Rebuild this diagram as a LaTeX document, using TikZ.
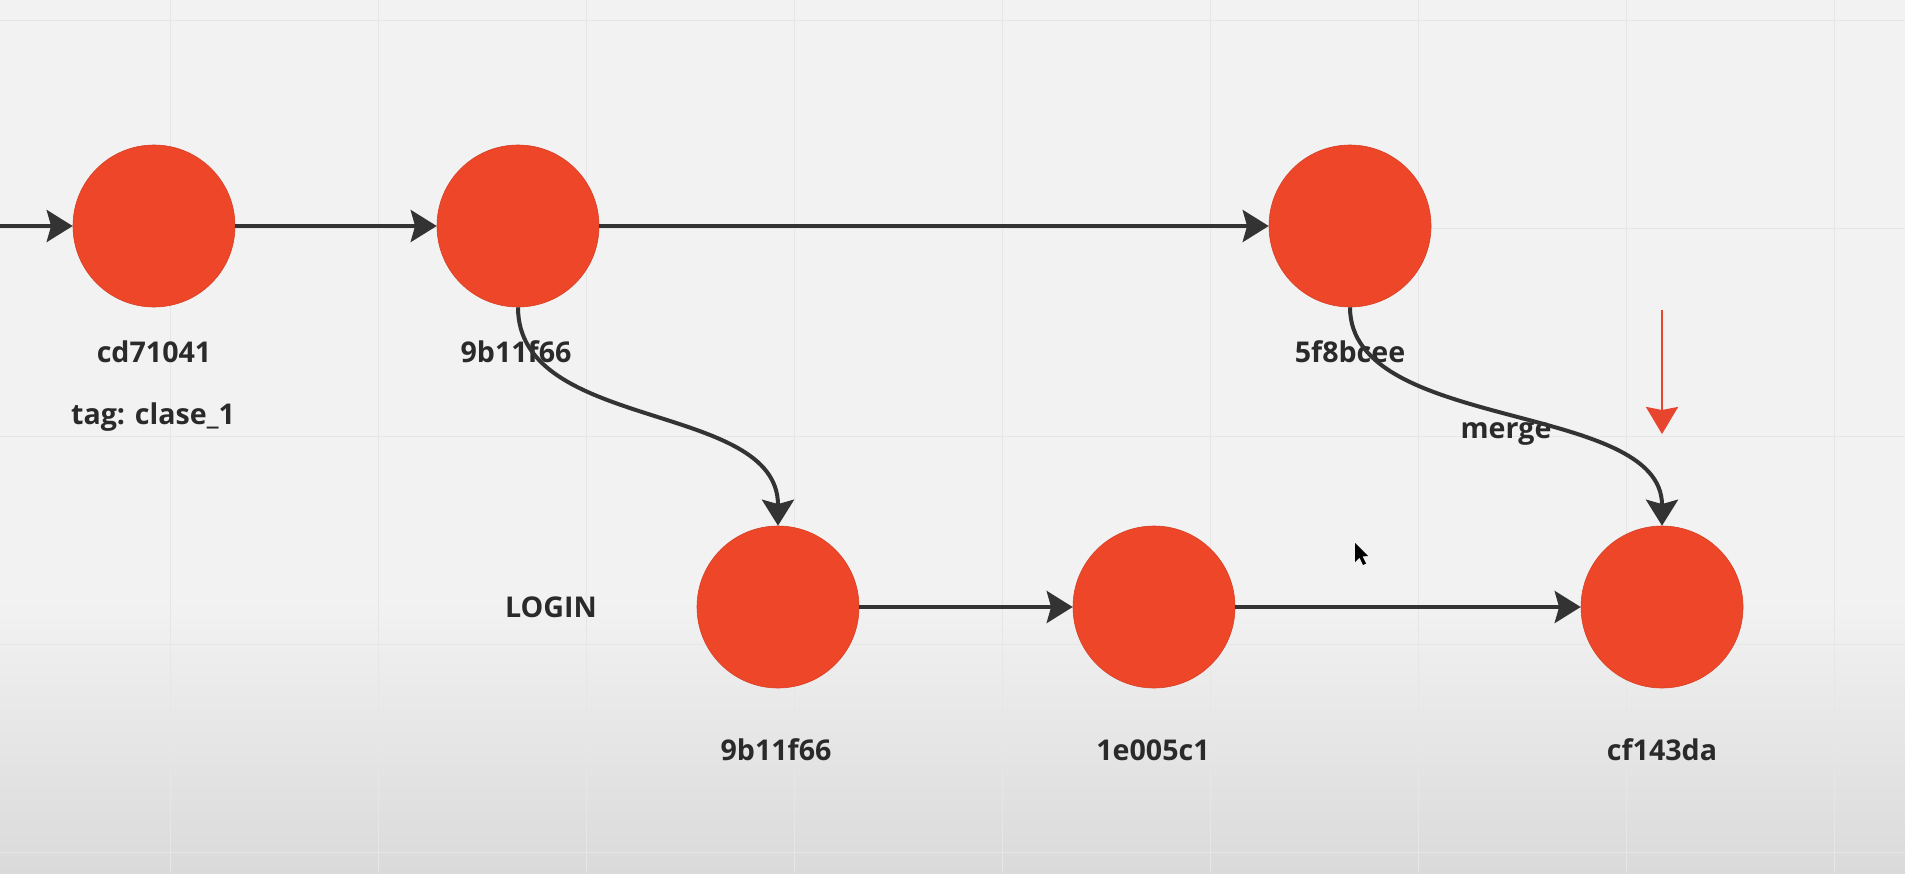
\documentclass[tikz,border=0pt]{standalone}
\usepackage{fontspec}
\setmainfont{Open Sans}
\usetikzlibrary{arrows.meta,calc}
\definecolor{bg}{HTML}{F2F2F2}
\definecolor{bgdark}{HTML}{DADADA}
\definecolor{gridc}{HTML}{E6E6E6}
\definecolor{commitred}{HTML}{EE4628}
\definecolor{linec}{HTML}{333333}
\definecolor{textc}{HTML}{2A2A2A}
\definecolor{pointer}{HTML}{E8452E}
\begin{document}
\begin{tikzpicture}[x=0.5pt,y=0.5pt,
  commit/.style={circle,fill=commitred,draw=commitred!90!black,line width=0.3pt,minimum size=81pt,inner sep=0pt},
  lbl/.style={font=\bfseries\fontsize{14.3}{17}\selectfont,text=textc,inner sep=0pt},
  conn/.style={draw=linec,line width=2pt,-{Stealth[length=13pt,width=16pt,inset=2.2pt]}},
  redarrow/.style={draw=pointer,line width=1.35pt,-{Stealth[length=13.5pt,width=16pt,inset=1.5pt]}},
  gridline/.style={draw=gridc,line width=0.5pt}]
% background
\fill[bg] (0,0) rectangle (1905,-873);
\shade[top color=bg,bottom color=bgdark] (0,-600) rectangle (1905,-873);
\useasboundingbox (0,0) rectangle (1905,-873);
\foreach \x in {170,378,586,794,1002,1210,1418,1626,1834}
  \draw[gridline] (\x,0) -- (\x,-873);
\foreach \y in {20,228,436,644,852}
  \draw[gridline] (0,-\y) -- (1905,-\y);
% commits
\node[commit] (c1) at (154,-226) {};
\node[commit] (c2) at (518,-226) {};
\node[commit] (c3) at (1350,-226) {};
\node[commit] (c4) at (778,-607) {};
\node[commit] (c5) at (1154,-607) {};
\node[commit] (c6) at (1662,-607) {};
% labels
\node[lbl] (l1) at (154,-352) {cd71041};
\node[lbl] (t1) at (153,-417) {tag: clase\_1};
\node[lbl] (l2) at (516,-352) {9b11f66};
\node[lbl] (l3) at (1350,-352) {5f8bcee};
\node[lbl] (login) at (551,-607) {LOGIN};
\node[lbl] (l4) at (776,-750) {9b11f66};
\node[lbl] (l5) at (1153,-750) {1e005c1};
\node[lbl] (l6) at (1662,-750) {cf143da};
\node[lbl] (mg) at (1506,-434) {merge};
% connectors
\coordinate (in) at (0,-226);
\draw[conn] (in) -- (c1);
\draw[conn] (c1) -- (c2);
\draw[conn] (c2) -- (c3);
\draw[conn] (c4) -- (c5);
\draw[conn] (c5) -- (c6);
\draw[conn] (c2.south) .. controls ($(c2.south)+(0,-125)$) and ($(c4.north)+(0,125)$) .. (c4.north);
\draw[conn] (c3.south) .. controls ($(c3.south)+(0,-125)$) and ($(c6.north)+(0,125)$) .. (c6.north);
% red pointer arrow
\coordinate (rs) at (1662,-310);
\coordinate (re) at (1662,-434);
\draw[redarrow] (rs) -- (re);
% mouse cursor
\fill[black] (1355,-543) -- (1355,-562) -- (1359.5,-557.5) -- (1363,-565) -- (1366,-563.5) -- (1362.5,-556.5) -- (1368,-556) -- cycle;
\end{tikzpicture}
\end{document}
